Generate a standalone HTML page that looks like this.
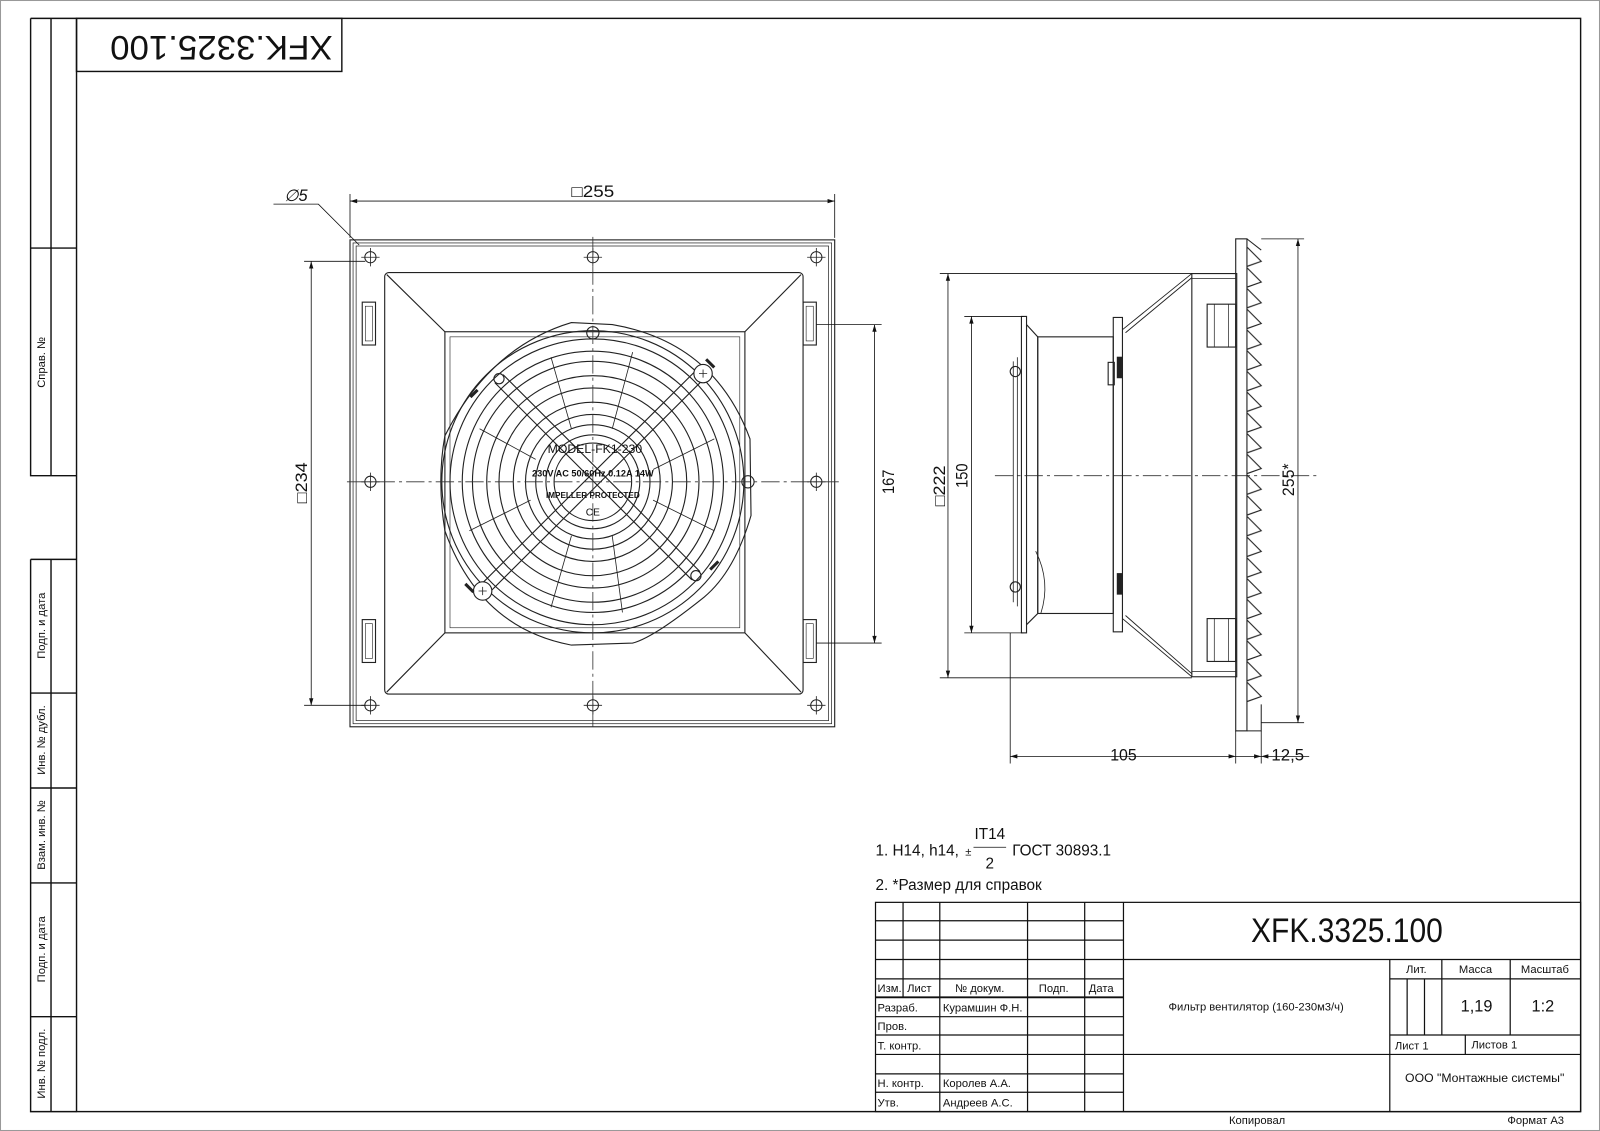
<!DOCTYPE html>
<html><head><meta charset="utf-8"><style>
html,body{margin:0;padding:0;background:#fff}
svg{display:block}
text{font-family:"Liberation Sans Narrow","Liberation Sans",sans-serif;fill:#111}
</style></head><body>
<svg width="1600" height="1131" viewBox="0 0 1568 1108" preserveAspectRatio="none" xmlns="http://www.w3.org/2000/svg">
<defs>
<g id="hole"><circle r="5.5" fill="none" stroke="#222" stroke-width="1"/><path d="M-9,0H9M0,-9V9" stroke="#222" stroke-width="0.8"/></g>
<pattern id="saw" x="1222" y="242" width="20" height="20.3" patternUnits="userSpaceOnUse">
<path d="M0,0 L14,14 L0,19" fill="none" stroke="#222" stroke-width="1.1"/>
</pattern>
<marker id="ar" viewBox="0 0 10 10" refX="10" refY="5" markerWidth="9" markerHeight="7" orient="auto-start-reverse" markerUnits="userSpaceOnUse"><path d="M0,2 L10,5 L0,8 Z" fill="#111"/></marker>
</defs>
<rect x="0.5" y="0.5" width="1567" height="1107" fill="none" stroke="#999" stroke-width="1"/>
<g fill="none" stroke="#111" stroke-width="1.4">
<rect x="75" y="18" width="1474" height="1071"/>
<rect x="75" y="18" width="260" height="52"/>
<path d="M30,18V466H75M50,18V466M30,243H75M30,18H75"/>
<path d="M30,548H75M30,548V1089H75M50,548V1089M30,679H75M30,772H75M30,865H75M30,996H75"/>
</g>
<text transform="translate(217,44) rotate(180)" font-size="34" text-anchor="middle" dominant-baseline="middle" textLength="218" lengthAdjust="spacingAndGlyphs">XFK.3325.100</text>
<g font-size="11" text-anchor="middle">
<text transform="translate(44,355) rotate(-90)">Справ. №</text>
<text transform="translate(44,613) rotate(-90)">Подп. и дата</text>
<text transform="translate(44,725) rotate(-90)">Инв. № дубл.</text>
<text transform="translate(44,818) rotate(-90)">Взам. инв. №</text>
<text transform="translate(44,930) rotate(-90)">Подп. и дата</text>
<text transform="translate(44,1042) rotate(-90)">Инв. № подл.</text>
</g>

<g fill="none" stroke="#222" stroke-width="1.1">
<rect x="343" y="235" width="475" height="477"/>
<rect x="346" y="238" width="469" height="471" stroke-width="0.7"/>
<rect x="349" y="241" width="463" height="465" stroke-width="0.7"/>
<rect x="377" y="267" width="410" height="413" rx="4"/>
<rect x="436" y="325" width="294" height="295"/>
<rect x="441" y="330" width="284" height="285" stroke-width="0.6"/>
<path d="M379,269L436,325M785,269L730,325M379,678L436,620M785,678L730,620"/>
<rect x="355" y="296" width="13" height="42"/><rect x="358" y="300" width="7" height="34" stroke-width="0.6"/>
<rect x="355" y="607" width="13" height="42"/><rect x="358" y="611" width="7" height="34" stroke-width="0.6"/>
<rect x="787" y="296" width="13" height="42"/><rect x="790" y="300" width="7" height="34" stroke-width="0.6"/>
<rect x="787" y="607" width="13" height="42"/><rect x="790" y="611" width="7" height="34" stroke-width="0.6"/>
<path d="M436,427 Q480,340 560,316 L600,318 Q700,335 735,430 L736,505 Q720,560 690,585 Q640,625 620,630 L560,632 Q470,615 436,520 Q428,470 436,427 Z"/>
<circle cx="581" cy="472" r="148"/>
<circle cx="581" cy="472" r="140"/>
<circle cx="581" cy="472" r="128"/>
<circle cx="581" cy="472" r="118"/>
<circle cx="581" cy="472" r="104"/>
<circle cx="581" cy="472" r="92"/>
<circle cx="581" cy="472" r="78"/>
<circle cx="581" cy="472" r="66"/>
<circle cx="581" cy="472" r="56"/>
<circle cx="581" cy="472" r="46"/>
<circle cx="581" cy="472" r="38"/>
<path d="M540,350L560,420M620,345L600,420M700,430L640,460M700,520L640,490M610,600L600,525M540,595L560,525M460,520L520,490M470,420L525,450" stroke-width="0.8"/>
<path d="M469,575L684,361M477,583L692,369" stroke-width="1.1"/>
<path d="M485,375L678,568M493,367L686,560" stroke-width="1.1"/>
<circle cx="473" cy="579" r="9" fill="#fff"/><circle cx="689" cy="366" r="9" fill="#fff"/>
<circle cx="489" cy="371" r="5"/><circle cx="682" cy="564" r="5"/>
<path d="M469,579h8M473,575v8M685,366h8M689,362v8" stroke-width="0.8"/>
<circle cx="581" cy="326" r="6"/><circle cx="733" cy="472" r="6"/>
<path d="M464,580l-8,-8M700,360l-8,-8M468,382l-7,7M696,558l8,-8" stroke-width="3"/>
</g>
<g font-size="10" font-weight="bold" text-anchor="middle" fill="#333">
<text x="583" y="444" font-size="12" font-weight="normal">MODEL-FK1-230</text>
<text x="581" y="467" font-size="9">230V AC 50/60Hz 0.12A 14W</text>
<text x="581" y="488" font-size="8">IMPELLER PROTECTED</text>
<text x="581" y="505" font-size="10" font-weight="normal">CE</text>
</g>
<use href="#hole" x="363" y="252"/><use href="#hole" x="581" y="252"/><use href="#hole" x="800" y="252"/>
<use href="#hole" x="363" y="472"/><use href="#hole" x="800" y="472"/>
<use href="#hole" x="363" y="691"/><use href="#hole" x="581" y="691"/><use href="#hole" x="800" y="691"/>
<g stroke="#333" stroke-width="0.8" stroke-dasharray="18 4 3 4" fill="none">
<path d="M581,232V712M340,472H822"/>
<path d="M975,466H1290"/>
</g>
<g stroke="#111" stroke-width="0.8" fill="none">
<path d="M343,233V190M818,233V190"/>
<path d="M343,197H818" marker-start="url(#ar)" marker-end="url(#ar)"/>
<path d="M298,256H358M298,691H358"/>
<path d="M305,256V691" marker-start="url(#ar)" marker-end="url(#ar)"/>
<path d="M800,318H864M800,630H864"/>
<path d="M857,318V630" marker-start="url(#ar)" marker-end="url(#ar)"/>
<path d="M268,200H312L352,240"/>
</g>
<g font-size="16" text-anchor="middle">
<text x="581" y="193" textLength="42" lengthAdjust="spacingAndGlyphs">□255</text>
<text x="290" y="197" font-style="italic">∅5</text>
<text transform="translate(301,473) rotate(-90)" textLength="40" lengthAdjust="spacingAndGlyphs">□234</text>
<text transform="translate(876,472) rotate(-90)" textLength="24" lengthAdjust="spacingAndGlyphs">167</text>
</g>

<g fill="none" stroke="#222" stroke-width="1.1">
<rect x="1001" y="310" width="5" height="310"/>
<path d="M993,354V590M997,350V594" stroke-width="0.8"/>
<circle cx="995" cy="364" r="5"/><circle cx="995" cy="575" r="5"/>
<path d="M1006,318L1017,330V601L1006,612"/>
<rect x="1017" y="330" width="74" height="271"/>
<path d="M1015,540Q1030,570 1020,601" stroke-width="0.8"/>
<rect x="1091" y="311" width="9" height="308"/>
<rect x="1086" y="355" width="6" height="22"/>
<rect x="1095" y="350" width="4" height="20" fill="#222"/><rect x="1095" y="562" width="4" height="20" fill="#222"/>
<path d="M1100,323L1168,268M1100,606L1168,663M1103,326L1168,272M1103,603L1168,660" stroke-width="0.9"/>
<rect x="1168" y="268" width="44" height="395"/>
<path d="M1168,273H1211M1168,658H1211" stroke-width="0.7"/>
<rect x="1183" y="298" width="28" height="42"/><path d="M1190,298V340M1204,298V340" stroke-width="0.7"/>
<rect x="1183" y="606" width="28" height="42"/><path d="M1190,606V648M1204,606V648" stroke-width="0.7"/>
<rect x="1211" y="234" width="11" height="482"/>
</g>
<rect x="1222" y="242" width="16" height="446" fill="url(#saw)"/>
<path d="M1222,234L1236,245M1222,716H1236V690" fill="none" stroke="#222" stroke-width="1"/>
<g stroke="#111" stroke-width="0.8" fill="none">
<path d="M921,268H1168M921,664H1168"/>
<path d="M929,268V664" marker-start="url(#ar)" marker-end="url(#ar)"/>
<path d="M945,310H1003M945,620H1003"/>
<path d="M952,310V620" marker-start="url(#ar)" marker-end="url(#ar)"/>
<path d="M1236,234H1278M1236,708H1278"/>
<path d="M1272,234V708" marker-start="url(#ar)" marker-end="url(#ar)"/>
<path d="M990,620V748M1211,716V748M1236,716V748"/>
<path d="M990,741H1211" marker-start="url(#ar)" marker-end="url(#ar)"/>
<path d="M1211,741H1236" marker-end="url(#ar)"/>
<path d="M1236,741H1283" marker-start="url(#ar)"/>
</g>
<g font-size="16" text-anchor="middle">
<text transform="translate(926,476) rotate(-90)" textLength="40" lengthAdjust="spacingAndGlyphs">□222</text>
<text transform="translate(948,466) rotate(-90)" textLength="24" lengthAdjust="spacingAndGlyphs">150</text>
<text transform="translate(1268,470) rotate(-90)" textLength="32" lengthAdjust="spacingAndGlyphs">255*</text>
<text x="1101" y="745" textLength="26" lengthAdjust="spacingAndGlyphs">105</text>
<text x="1262" y="745" textLength="32" lengthAdjust="spacingAndGlyphs">12,5</text>
</g>

<g font-size="15">
<text x="858" y="838">1. H14, h14,</text>
<text x="946" y="838" font-size="11">±</text>
<path d="M954,830H986" stroke="#111" stroke-width="0.8"/>
<text x="970" y="822" text-anchor="middle">IT14</text>
<text x="970" y="851" text-anchor="middle">2</text>
<text x="992" y="838">ГОСТ 30893.1</text>
<text x="858" y="872">2. *Размер для справок</text>
</g>

<g fill="none" stroke="#111" stroke-width="1.2">
<rect x="858" y="884" width="691" height="205"/>
<path d="M858,902H1101M858,921H1101M858,940H1549M858,959H1101M858,977H1101M858,996H1101M858,1014H1101M858,1033H1549M858,1052H1101M858,1070H1101"/>
<path d="M885,884V977M921,884V1089M1007,884V1089M1063,884V1089M1101,884V1089M1362,940V1089"/>
<path d="M1362,959H1549M1362,1014H1549M1413,940V1014M1480,940V1014M1379,959V1014M1396,959V1014M1436,1014V1033"/>
<path d="M858,977H1101" stroke-width="1.8"/>
</g>
<text x="1320" y="923" font-size="34" text-anchor="middle" textLength="188" lengthAdjust="spacingAndGlyphs">XFK.3325.100</text>
<g font-size="11">
<text x="860" y="972">Изм.</text><text x="889" y="972">Лист</text><text x="936" y="972">№ докум.</text><text x="1018" y="972">Подп.</text><text x="1067" y="972">Дата</text>
<text x="860" y="991">Разраб.</text><text x="924" y="991">Курамшин Ф.Н.</text>
<text x="860" y="1009">Пров.</text>
<text x="860" y="1028">Т. контр.</text>
<text x="860" y="1065">Н. контр.</text><text x="924" y="1065">Королев А.А.</text>
<text x="860" y="1084">Утв.</text><text x="924" y="1084">Андреев А.С.</text>
<text x="1231" y="990" text-anchor="middle">Фильтр вентилятор (160-230м3/ч)</text>
<text x="1388" y="953" text-anchor="middle">Лит.</text>
<text x="1446" y="953" text-anchor="middle">Масса</text>
<text x="1514" y="953" text-anchor="middle">Масштаб</text>
<text x="1367" y="1028">Лист 1</text>
<text x="1442" y="1027">Листов 1</text>
<text x="1455" y="1060" text-anchor="middle" font-size="12">ООО "Монтажные системы"</text>
<text x="1232" y="1101" text-anchor="middle">Копировал</text>
<text x="1505" y="1101" text-anchor="middle">Формат А3</text>
</g>
<text x="1447" y="991" font-size="16" text-anchor="middle">1,19</text>
<text x="1512" y="991" font-size="16" text-anchor="middle">1:2</text>
</svg>
</body></html>
